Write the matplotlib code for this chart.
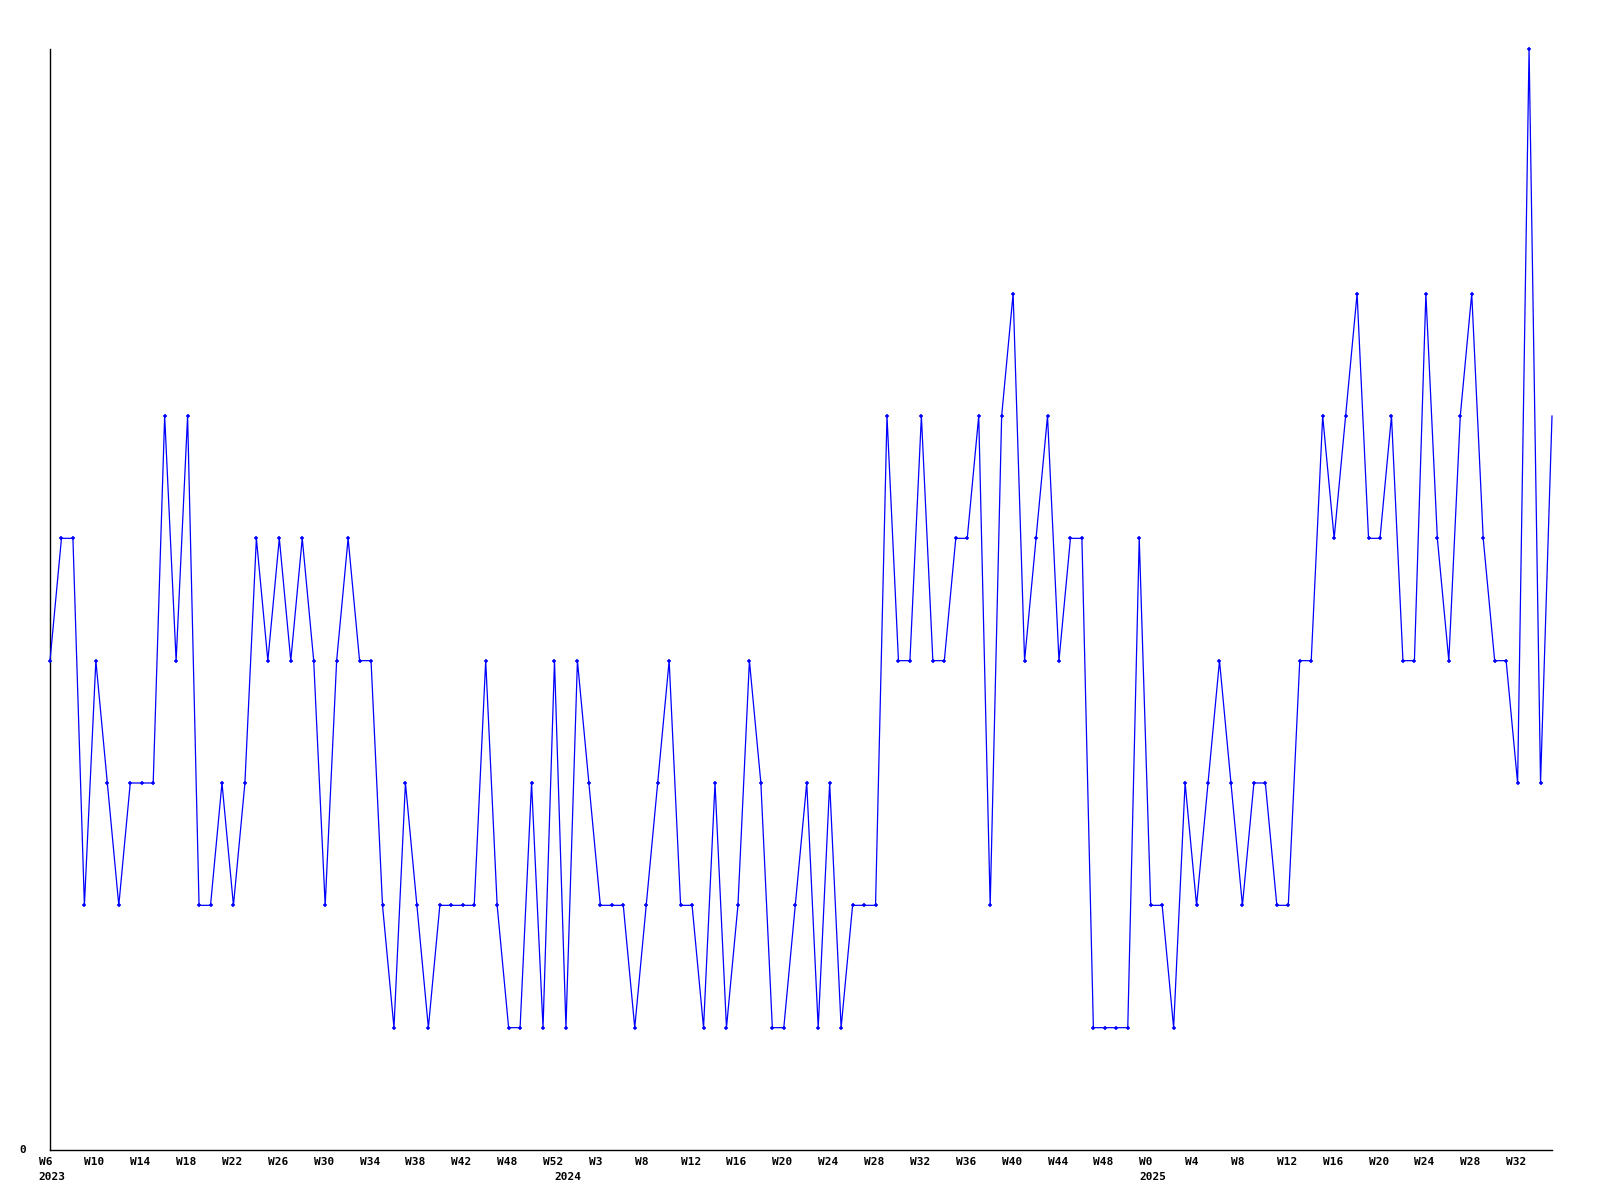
import matplotlib
matplotlib.use("Agg")
import matplotlib.pyplot as plt
import matplotlib.transforms as mtransforms

plt.rcParams['font.family'] = ['DejaVu Sans Mono']

# weekly values (one per week)
values = [
    4, 5, 5, 2, 4, 3, 2, 3, 3, 3,
    6, 4, 6, 2, 2, 3, 2, 3, 5, 4,
    5, 4, 5, 4, 2, 4, 5, 4, 4, 2,
    1, 3, 2, 1, 2, 2, 2, 2, 4, 2,
    1, 1, 3, 1, 4, 1, 4, 3, 2, 2,
    2, 1, 2, 3, 4, 2, 2, 1, 3, 1,
    2, 4, 3, 1, 1, 2, 3, 1, 3, 1,
    2, 2, 2, 6, 4, 4, 6, 4, 4, 5,
    5, 6, 2, 6, 7, 4, 5, 6, 4, 5,
    5, 1, 1, 1, 1, 5, 2, 2, 1, 3,
    2, 3, 4, 3, 2, 3, 3, 2, 2, 4,
    4, 6, 5, 6, 7, 5, 5, 6, 4, 4,
    7, 5, 4, 6, 7, 5, 4, 4, 3, 9,
    3, 6,
]

# x labels: one every 4 weeks, as printed in the reference
week_labels = ["W6", "W10", "W14", "W18", "W22", "W26", "W30", "W34", "W38",
               "W42", "W48", "W52", "W3", "W8", "W12", "W16", "W20", "W24",
               "W28", "W32", "W36", "W40", "W44", "W48", "W0", "W4", "W8",
               "W12", "W16", "W20", "W24", "W28", "W32"]
label_step = 4
year_labels = ["2023", "2024", "2025"]
year_index = [0, 45, 96]

fig = plt.figure(figsize=(16, 12), dpi=100)
ax = fig.add_axes([50 / 1600, 50 / 1200, 1502 / 1600, 1101 / 1200])

x = list(range(len(values)))
# the last week sits on the right edge, without a marker
ax.plot(x, values, color="#0000ff", lw=0.9, marker="+", markersize=3.2,
        markeredgewidth=1.1, markevery=list(range(len(values) - 1)),
        clip_on=False, zorder=3)

ax.set_xlim(0, len(values) - 1)
ax.set_ylim(0, max(values))

for s in ["top", "right"]:
    ax.spines[s].set_visible(False)
for s in ["left", "bottom"]:
    ax.spines[s].set_linewidth(1.0)
    ax.spines[s].set_color("black")
ax.set_xticks([])
ax.set_yticks([])

# labels are left aligned one step before their week
trans = mtransforms.blended_transform_factory(ax.transData, ax.transAxes)
for k, lab in enumerate(week_labels):
    ax.text(k * label_step - 1, -0.011, lab, transform=trans, ha="left",
            va="center", fontsize=8, fontweight="bold", clip_on=False)
for lab, i in zip(year_labels, year_index):
    ax.text(i - 1, -0.0245, lab, transform=trans, ha="left",
            va="center", fontsize=8, fontweight="bold", clip_on=False)

ax.text(-0.018, 0, "0", transform=ax.transAxes, ha="center", va="center",
        fontsize=8, fontweight="bold")

plt.savefig("out.png", dpi=100)
